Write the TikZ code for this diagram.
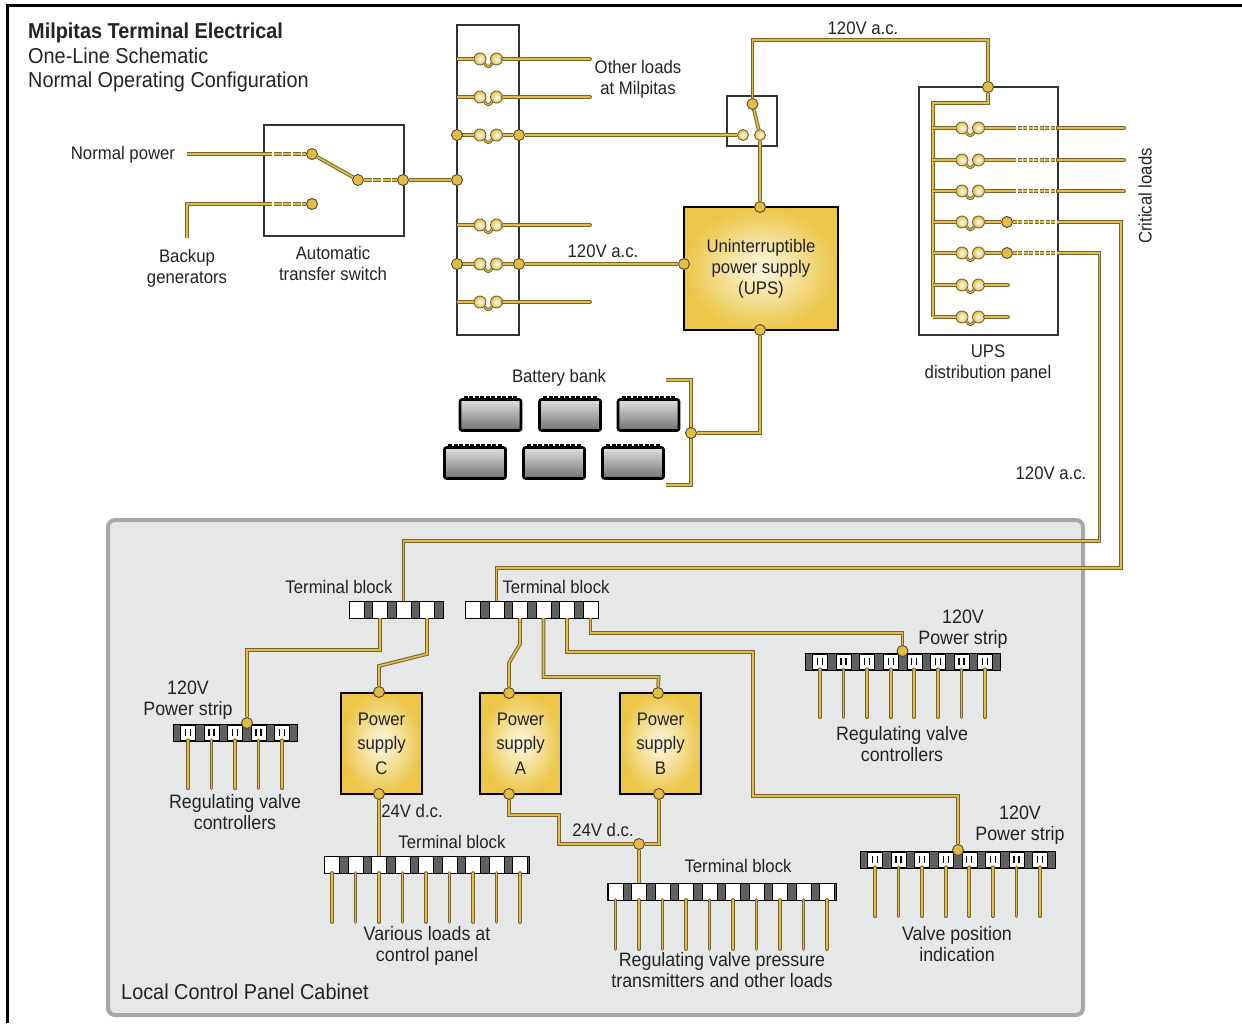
\documentclass[tikz,border=0pt]{standalone}
\usepackage{fontspec}
\usepackage{tikz}
\setmainfont{Liberation Sans}[FakeStretch=0.92]
\definecolor{wireedge}{RGB}{120,100,50}
\definecolor{wirecore}{RGB}{226,188,70}
\definecolor{boxgold}{RGB}{236,198,72}
\definecolor{boxglow}{RGB}{253,248,228}
\definecolor{cabinetfill}{RGB}{230,231,233}
\definecolor{cabinetedge}{RGB}{168,168,170}
\definecolor{inktext}{RGB}{35,35,35}
\definecolor{stripgray}{RGB}{96,96,96}

\begin{document}
\begin{tikzpicture}[
    x=1pt, y=-1pt,
    lbl/.style={align=center, inner sep=0pt, text=inktext, yshift=-1.5pt, font=\fontsize{18.2}{21}\selectfont},
    lblbig/.style={lbl, font=\fontsize{19.4}{21}\selectfont},
    headline/.style={anchor=west, align=left, inner sep=0pt, text=inktext, font=\fontsize{21.6}{24}\selectfont},
    wire/.style={draw=wireedge, line width=1pt, double=wirecore, double distance=1.7pt},
    wirebreak/.style={wire, dash pattern=on 8pt off 1.5pt},
    wirefine/.style={wire, dash pattern=on 4pt off 1.5pt},
    leg/.style={wire, line cap=round},
    dot/.style={circle, fill=wirecore, draw=wireedge!70!black, line width=0.9pt, minimum size=11pt, inner sep=0pt},
    fuse/.style={circle, inner color=white, outer color=wirecore, draw=wireedge, line width=0.9pt, minimum size=12pt, inner sep=0pt},
    panel/.style={rectangle, draw=black!80, line width=1.5pt, inner sep=0pt},
    powerbox/.style={rectangle, draw=black, line width=1.5pt, inner color=boxglow, outer color=boxgold, align=center, inner sep=0pt, text=inktext},
    blockbase/.style={rectangle, draw=black, fill=stripgray, line width=1pt, minimum height=17pt, inner sep=0pt, anchor=west},
    whitecell/.style={rectangle, draw=black, fill=white, line width=0.5pt, minimum width=15pt, minimum height=16.5pt, inner sep=0pt},
    outlet/.style={rectangle, draw=black, fill=white, line width=0.5pt, minimum width=15pt, minimum height=15pt, inner sep=0pt},
    battery/.style={rectangle, draw=black, line width=2.6pt, rounded corners=2pt, top color=black!12, bottom color=black!55, minimum width=61pt, minimum height=31pt, inner sep=0pt}
]
\useasboundingbox (0,0) rectangle (1242,1023);

% ========== FRAME AND CABINET ==========
\draw[black, line width=3.5pt] (7.5,1023) -- (7.5,5.5) -- (1242,5.5);
\node[rectangle, draw=cabinetedge, fill=cabinetfill, line width=4pt, rounded corners=7pt, minimum width=975pt, minimum height=495pt, inner sep=0pt] (cabinet) at (595.5,767.5) {};

% ========== TITLE ==========
\node[headline, font=\fontsize{21.6}{24}\selectfont\bfseries] (title) at (28,33) {Milpitas Terminal Electrical};
\node[headline] (subtitle) at (28,69.5) {One-Line Schematic\\Normal Operating Configuration};

% ========== TRANSFER SWITCH ==========
\node[panel, minimum width=140pt, minimum height=111pt] (ats) at (334,180.5) {};
\coordinate (normalin) at (187,154);
\coordinate (normaledge) at (264,154);
\coordinate (backupin) at (187,238);
\coordinate (backupbend) at (187,204);
\coordinate (backupedge) at (264,204);
\node[dot] (atsn) at (312,154) {};
\node[dot] (atsb) at (312,204) {};
\node[dot] (atsm) at (358,180) {};
\node[dot] (atsout) at (403,180) {};

\draw[wire] (normalin) -- (normaledge);
\draw[wirebreak] (normaledge) -- (atsn);
\draw[wire] (backupin) -- (backupbend) -- (backupedge);
\draw[wirebreak] (backupedge) -- (atsb);
\draw[wire] (atsn) -- (atsm);
\draw[wirebreak] (atsm) -- (atsout);

% ========== MAIN PANEL ==========
\node[panel, minimum width=62pt, minimum height=310pt] (mainpanel) at (488,180) {};
\foreach \i/\y in {1/59,2/97,3/135,4/225,5/264,6/302} {
    \coordinate (mainl\i) at (457,\y);
    \coordinate (mainr\i) at (590,\y);
    \node[fuse] (mainfa\i) at (480,\y) {};
    \node[fuse] (mainfb\i) at (496.5,\y) {};
    \draw[wire] (mainl\i) -- (mainfa\i);
    \draw[wire, double distance=1pt] (mainfa\i.south east) .. controls +(2,4) and +(-2,4) .. (mainfb\i.south west);
}
\foreach \i in {1,2,4,6} {
    \draw[wire, line cap=round] (mainfb\i) -- (mainr\i);
}
\node[dot] (mainin) at (457,180) {};
\node[dot] (maind3) at (457,135) {};
\node[dot] (maine3) at (519,135) {};
\node[dot] (maind5) at (457,264) {};
\node[dot] (maine5) at (519,264) {};
\draw[wire] (atsout) -- (mainin);
\draw[wire] (mainfb3) -- (maine3);
\draw[wire] (mainfb5) -- (maine5);

% ========== BYPASS SWITCH AND UPS ==========
\node[panel, minimum width=50pt, minimum height=50pt] (bypass) at (752,121) {};
\node[dot] (bypasstop) at (752.5,104) {};
\node[fuse, minimum size=11pt] (bypassl) at (743,135) {};
\node[fuse, minimum size=11pt] (bypassr) at (760,135) {};
\node[powerbox, minimum width=154pt, minimum height=123pt, font=\fontsize{18.2}{21}\selectfont] (ups) at (761,268.5) {Uninterruptible\\power supply\\(UPS)};
\node[dot] (upstop) at (760,207) {};
\node[dot] (upsleft) at (684,264) {};
\node[dot] (upsbot) at (760,330) {};
\draw[wire] (maine3) -- (bypassl);
\draw[wire] (bypasstop) -- (bypassr);
\draw[wire] (bypassr) -- (upstop);
\draw[wire] (maine5) -- (upsleft);

% ========== BATTERIES ==========
\foreach \nm/\x/\y in {a/490.5/415, b/570/415, c/648.5/415, d/475/463, e/554/463, f/633/463} {
    \node[battery] (bat\nm) at (\x,\y) {};
    \draw[black, line width=2.5pt, dash pattern=on 4pt off 1.5pt] ([xshift=5pt,yshift=1pt]bat\nm.north west) -- ([xshift=-5pt,yshift=1pt]bat\nm.north east);
}
\coordinate (brtop) at (666,380);
\coordinate (brbot) at (666,485);
\draw[wire] (brtop) -- ++(25,0) |- (brbot);
\node[dot] (batdot) at (691,433) {};
\draw[wire] (upsbot) |- (batdot);

% ========== UPS DISTRIBUTION PANEL ==========
\node[panel, minimum width=139pt, minimum height=248pt] (upspanel) at (988.5,211) {};
\node[dot] (upspin) at (988,87) {};
\coordinate (feedtop) at (870,40);
\coordinate (busbend) at (988,103);
\coordinate (busend) at (933,317);
\draw[wire] (bypasstop) |- (feedtop) -| (upspin);
\draw[wire] (upspin) -- (busbend) -| (busend);
\foreach \i/\y in {1/128,2/160,3/191,4/222,5/253,6/285,7/317} {
    \coordinate (bus\i) at (933,\y);
    \coordinate (edge\i) at (1058,\y);
    \node[fuse] (upsfa\i) at (962,\y) {};
    \node[fuse] (upsfb\i) at (978.5,\y) {};
    \draw[wire] (bus\i) -- (upsfa\i);
    \draw[wire, double distance=1pt] (upsfa\i.south east) .. controls +(2,4) and +(-2,4) .. (upsfb\i.south west);
}
\foreach \i/\y in {1/128,2/160,3/191} {
    \coordinate (brk\i) at (1012,\y);
    \coordinate (crit\i) at (1124,\y);
    \draw[wire] (upsfb\i) -- (brk\i);
    \draw[wirefine] (brk\i) -- (edge\i);
    \draw[wire, line cap=round] (edge\i) -- (crit\i);
}
\foreach \i/\y in {6/285,7/317} {
    \coordinate (stub\i) at (1008,\y);
    \draw[wire, line cap=round] (upsfb\i) -- (stub\i);
}
\foreach \i/\y in {4/222,5/253} {
    \node[dot] (updot\i) at (1007,\y) {};
    \draw[wire] (upsfb\i) -- (updot\i);
    \draw[wirefine] (updot\i) -- (edge\i);
}

% ========== BLOCKS AND STRIPS ==========
\foreach \nm/\xl/\w/\xf/\y/\n in {tbc/348.5/94/356.5/609.5/4, tba/465/133/473/609.5/6, tbl/324/205/332/864.5/9, tbr/607/229/615.5/891.5/10} {
    \node[blockbase, minimum width=\w pt] (\nm) at (\xl,\y) {};
    \foreach \i in {1,...,\n} {
        \node[whitecell] (\nm\i) at ({\xf+(\i-1)*23.5},\y) {};
    }
}
\foreach \nm/\xl/\w/\xf/\y/\n/\p/\ylen in {stl/173/124/188/732.5/5/23.5/48, stm/805/195/820/661.5/8/23.57/48, str/860/195/875/859.5/8/23.57/49} {
    \node[blockbase, minimum width=\w pt] (\nm) at (\xl,\y) {};
    \foreach \i in {1,...,\n} {
        \node[outlet] (\nm\i) at ({\xf+(\i-1)*\p},\y) {};
        \draw[black, line width=1.2pt] ([xshift=-2.5pt,yshift=3.5pt]\nm\i.center) -- ++(0,7);
        \draw[black, line width=1.2pt] ([xshift=2.5pt,yshift=3.5pt]\nm\i.center) -- ++(0,7);
        \draw[leg] (\nm\i.south) -- ++(0,\ylen);
    }
}
\foreach \i in {1,...,9} {
    \draw[leg] (tbl\i.south) -- ++(0,49);
}
\foreach \i in {1,...,10} {
    \draw[leg] (tbr\i.south) -- ++(0,49);
}

% ========== POWER SUPPLIES ==========
\node[powerbox, minimum width=81pt, minimum height=101pt, font=\fontsize{18.2}{24.5}\selectfont] (psc) at (381.5,743.5) {Power\\supply\\C};
\node[powerbox, minimum width=81pt, minimum height=101pt, font=\fontsize{18.2}{24.5}\selectfont] (psa) at (520.5,743.5) {Power\\supply\\A};
\node[powerbox, minimum width=81pt, minimum height=101pt, font=\fontsize{18.2}{24.5}\selectfont] (psb) at (660.5,743.5) {Power\\supply\\B};
\node[dot] (psctop) at (379,692) {};
\node[dot] (pscbot) at (379,794) {};
\node[dot] (psatop) at (509,693) {};
\node[dot] (psabot) at (509,794) {};
\node[dot] (psbtop) at (658,693) {};
\node[dot] (psbbot) at (659,794) {};
\node[dot] (dcjoin) at (639,844) {};
\node[dot] (stldot) at (247,723) {};
\node[dot] (stmdot) at (902.5,651) {};
\node[dot] (strdot) at (958,850) {};

% ========== CABINET WIRING ==========
\coordinate (feedb) at (1121,568);
\coordinate (feedc) at (1099.5,541);
\coordinate (hopc) at (379,666);
\coordinate (hopa) at (509,663);
\coordinate (bendstr) at (753,796);
\draw[wire] (updot4) ++(51,0) -| (feedb) -| (tba2.north);
\draw[wire] (updot5) ++(51,0) -| (feedc) -| (tbc3.north);
\draw[wire] (tbc2.south) |- ++(-133,32) -- (stldot);
\draw[wire] (tbc4.south) -- ++(0,36) -- (hopc) -- (psctop);
\draw[wire] (tba3.south) -- ++(0,26) -- (hopa) -- (psatop);
\draw[wire] (tba4.south) |- ++(115,59) -- (psbtop);
\draw[wire] (tba5.south) |- (bendstr |- 0,652) -- (bendstr) -| (strdot);
\draw[wire] (tba6.south) -- ++(0,15) -| (stmdot);
\draw[wire] (pscbot) -- (tbl3.north);
\draw[wire] (psabot) |- (559,815) |- (dcjoin);
\draw[wire] (psbbot) |- (dcjoin);
\draw[wire] (dcjoin) -- (tbr2.north);

% ========== LABELS ==========
\node[lbl] (lnormal) at (123,153) {Normal power};
\node[lbl] (lbackup) at (187,267) {Backup\\generators};
\node[lbl] (lats) at (333,261.5) {Automatic\\transfer switch};
\node[lbl] (lother) at (638,77.5) {Other loads\\at Milpitas};
\node[lbl] (lacmain) at (603,250) {120V a.c.};
\node[lbl] (lactop) at (863,27) {120V a.c.};
\node[lbl] (lacfeed) at (1051,472) {120V a.c.};
\node[lbl, rotate=90, yshift=0pt, xshift=1.5pt] (lcrit) at (1145,196) {Critical loads};
\node[lbl] (lpanel) at (988,362.5) {UPS\\distribution panel};
\node[lbl] (lbat) at (559,376) {Battery bank};
\node[lbl] (ltbc) at (339,585) {Terminal block};
\node[lbl] (ltba) at (556,585) {Terminal block};
\node[lbl] (ltbl) at (452,840) {Terminal block};
\node[lbl] (ltbr) at (738,864) {Terminal block};
\node[lblbig] (lstl) at (188,699) {120V\\Power strip};
\node[lblbig] (lstm) at (963,628) {120V\\Power strip};
\node[lblbig] (lstr) at (1020,824) {120V\\Power strip};
\node[lblbig] (lregl) at (235,810.5) {Regulating valve\\controllers};
\node[lblbig] (lregm) at (902,743) {Regulating valve\\controllers};
\node[lbl] (ldcc) at (412,809) {24V d.c.};
\node[lbl] (ldca) at (603,828) {24V d.c.};
\node[lblbig] (lvarious) at (427,944.5) {Various loads at\\control panel};
\node[lblbig] (lpress) at (722,969) {Regulating valve pressure\\transmitters and other loads};
\node[lblbig] (lvalve) at (957,942.5) {Valve position\\indication};
\node[headline] (lcabinet) at (121,992) {Local Control Panel Cabinet};

\end{tikzpicture}
\end{document}
